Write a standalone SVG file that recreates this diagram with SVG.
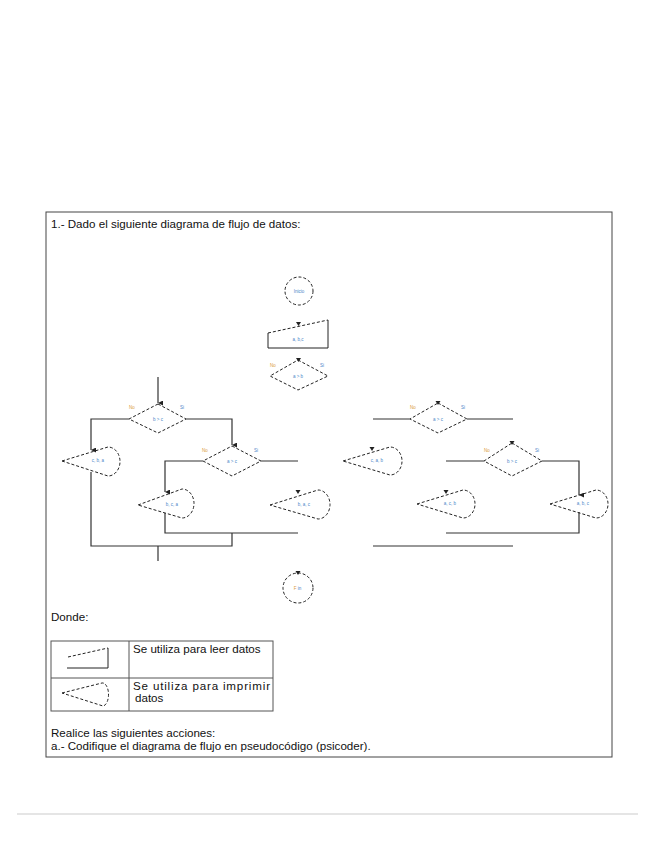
<svg xmlns="http://www.w3.org/2000/svg" width="655" height="848" viewBox="0 0 655 848">
<defs>
<marker id="ah" viewBox="0 0 10 10" refX="5" refY="10" markerWidth="5" markerHeight="5" orient="auto-start-reverse" markerUnits="userSpaceOnUse">
<path d="M0,0 L10,0 L5,10 Z" fill="#222"/>
</marker>
<style>
.txt{font-family:"Liberation Sans",Arial,sans-serif;font-size:11.6px;fill:#111}
.sm{font-family:"Liberation Sans",Arial,sans-serif;font-size:4.5px;text-anchor:middle}
.no{fill:#d99a3a}
.si{fill:#4a86c8}
.lb{fill:#4a86c8}
.dash{fill:none;stroke:#222;stroke-width:1;stroke-dasharray:3,2}
.solid{fill:none;stroke:#222;stroke-width:1}
.conn{fill:none;stroke:#333;stroke-width:1.2}
.tri{fill:#222}
</style>
</defs>
<rect width="655" height="848" fill="#fff"/>
<rect x="46" y="212" width="566" height="545" fill="none" stroke="#444" stroke-width="1"/>
<text class="txt" x="51" y="228">1.-  Dado el siguiente diagrama de flujo de datos:</text>

<g id="connectors">
<path class="conn" d="M158,377 V403" marker-end="url(#ah)"/>
<path class="conn" d="M129,419 H91 V450" marker-end="url(#ah)"/>
<path class="conn" d="M186,419 H232 V445" marker-end="url(#ah)"/>
<path class="conn" d="M261,461 H298"/>
<path class="conn" d="M203,461 H165 V492" marker-end="url(#ah)"/>
<path class="conn" d="M91,472 V546 H232 V533"/>
<path class="conn" d="M165,513 V533 H298"/>
<path class="conn" d="M158,546 V561"/>
<path class="conn" d="M373,419 H410"/>
<path class="conn" d="M467,419 H513"/>
<path class="conn" d="M446,461 H484"/>
<path class="conn" d="M542,461 H579 V495" marker-end="url(#ah)"/>
<path class="conn" d="M579,512 V533 H446"/>
<path class="conn" d="M373,546 H513"/>
</g>

<g id="inicio">
<circle class="dash" cx="299" cy="291" r="14"/>
<text class="sm lb" x="299" y="292.5">Inicio</text>
</g>
<g id="leer">
<path class="tri" d="M296,322 H301 L298.5,326 Z"/>
<path class="dash" d="M268,333 L328,320"/>
<path class="solid" d="M268,333 V348 H328 V320"/>
<text class="sm lb" x="298" y="341">a, b,c</text>
</g>
<g id="d1">
<path class="tri" d="M296,358 H301 L298.5,362 Z"/>
<path class="dash" d="M298,360 L328,376 L298,390 L270,376 Z"/>
<text class="sm no" x="273" y="367">No</text>
<text class="sm si" x="322" y="367">Si</text>
<text class="sm lb" x="298" y="378">a &gt; b</text>
</g>
<g id="d2">
<path class="dash" d="M158,404 L186,419 L158,433 L129,419 Z"/>
<text class="sm no" x="132" y="409">No</text>
<text class="sm si" x="182" y="409">Si</text>
<text class="sm lb" x="158" y="421">b &gt; c</text>
</g>
<g id="p1">
<path class="dash" d="M62,461 L108,447 A12,14.5 0 0 1 108,476 Z"/>
<text class="sm lb" x="98" y="462">c, b, a</text>
</g>
<g id="d3">
<path class="dash" d="M232,446 L261,461 L232,476 L203,461 Z"/>
<text class="sm no" x="205" y="452">No</text>
<text class="sm si" x="256" y="452">Si</text>
<text class="sm lb" x="232" y="463">a &gt; c</text>
</g>
<g id="p2">
<path class="dash" d="M138,505 L182,489 A12,14.5 0 0 1 182,518 Z"/>
<text class="sm lb" x="172" y="506">b, c, a</text>
</g>
<g id="p3">
<path class="tri" d="M295.5,490 H300.5 L298,494 Z"/>
<path class="dash" d="M270,505 L318,490 A12,14.5 0 0 1 318,519 Z"/>
<text class="sm lb" x="304" y="506">b, a, c</text>
</g>
<g id="d4">
<path class="tri" d="M435.5,401 H440.5 L438,405 Z"/>
<path class="dash" d="M438,403 L467,419 L438,433 L410,419 Z"/>
<text class="sm no" x="413" y="409">No</text>
<text class="sm si" x="463" y="409">Si</text>
<text class="sm lb" x="438" y="421">a &gt; c</text>
</g>
<g id="p4">
<path class="tri" d="M369.5,447 H374.5 L372,451 Z"/>
<path class="dash" d="M343,461 L390,447 A12,14 0 0 1 390,475 Z"/>
<text class="sm lb" x="377" y="462">c, a, b</text>
</g>
<g id="d5">
<path class="tri" d="M509.5,441 H514.5 L512,445 Z"/>
<path class="dash" d="M512,443 L542,461 L512,476 L484,461 Z"/>
<text class="sm no" x="487" y="452">No</text>
<text class="sm si" x="537" y="452">Si</text>
<text class="sm lb" x="512" y="463">b &gt; c</text>
</g>
<g id="p5">
<path class="tri" d="M443.5,490 H448.5 L446,494 Z"/>
<path class="dash" d="M417,504 L463,490 A12,14 0 0 1 463,518 Z"/>
<text class="sm lb" x="450" y="505">a, c, b</text>
</g>
<g id="p6">
<path class="dash" d="M550,504 L596,490 A12,14 0 0 1 596,518 Z"/>
<text class="sm lb" x="583" y="505">a, b, c</text>
</g>
<g id="fin">
<path class="tri" d="M295.5,571 H300.5 L298,575 Z"/>
<circle class="dash" cx="298" cy="588" r="15"/>
<text class="sm no" x="295" y="590">F</text>
<text class="sm lb" x="299.5" y="590">in</text>
</g>

<text class="txt" x="51" y="621">Donde:</text>
<g id="legend">
<rect x="51" y="641" width="222" height="70" fill="none" stroke="#555" stroke-width="1"/>
<line x1="51" y1="678" x2="273" y2="678" stroke="#555" stroke-width="1"/>
<line x1="129" y1="641" x2="129" y2="711" stroke="#555" stroke-width="1"/>
<path class="dash" d="M68,657 L108,648" stroke-dasharray="1.5,2"/>
<path class="solid" d="M108,648 V668 H67"/>
<path class="dash" d="M62,693 L102,683 A6,11.5 0 0 1 103,706 Z" stroke-dasharray="1.5,1.5"/>
<text class="txt" x="133" y="653">Se utiliza para leer datos</text>
<text class="txt" x="133" y="690" textLength="137">Se utiliza para imprimir</text>
<text class="txt" x="135" y="702">datos</text>
</g>
<text class="txt" x="51" y="737">Realice las siguientes acciones:</text>
<text class="txt" x="51" y="750">a.-  Codifique el diagrama de flujo en pseudocódigo (psicoder).</text>

<line x1="17" y1="814" x2="638" y2="814" stroke="#ddd" stroke-width="1.5"/>
</svg>
